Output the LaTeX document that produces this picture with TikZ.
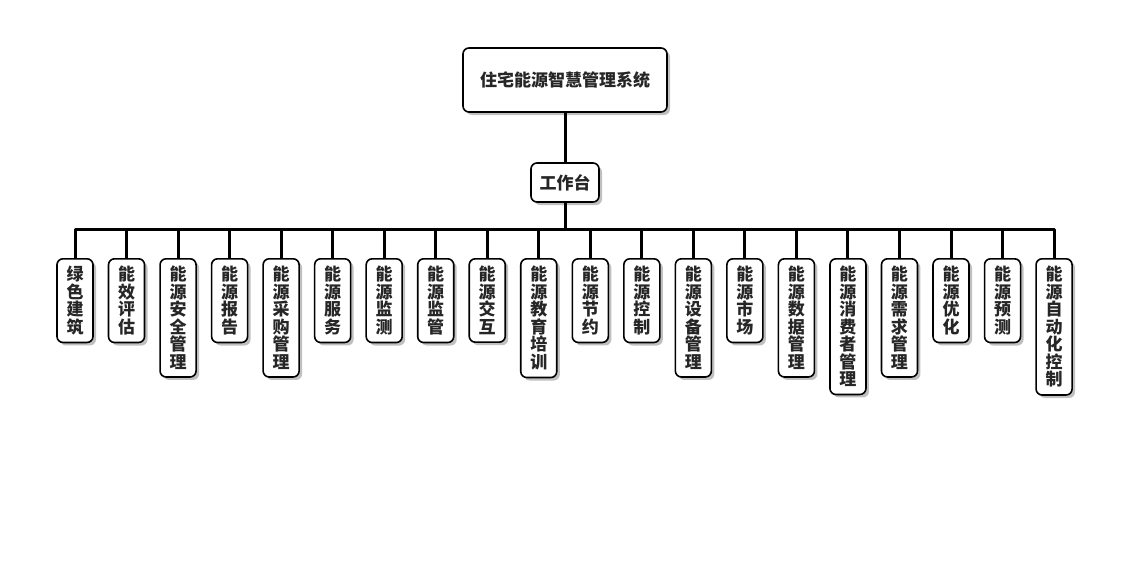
\documentclass[tikz,border=0pt]{standalone}
\usepackage{fontspec}
\newfontfamily\cjk{Noto Sans CJK SC}
\usetikzlibrary{shadows}
\begin{document}
\begin{tikzpicture}[x=1pt, y=-1pt, font=\cjk\bfseries\fontsize{17}{17.5}\selectfont, line join=round, line cap=round]
\tikzset{
  card/.style={draw, line width=1.6pt, rounded corners=6pt, fill=white, text=black!85,
    drop shadow={shadow xshift=3pt, shadow yshift=-3pt, fill=black!55, opacity=0.45}},
  leaf/.style={card, anchor=north, align=center, inner xsep=9.5pt, inner ysep=7.5pt},
  wire/.style={line width=3pt, line cap=butt}
}
\useasboundingbox (0,0) rectangle (1130,560);
\node[card, minimum width=204pt, minimum height=64pt] (root) at (565,80) {住宅能源智慧管理系统};
\node[card, minimum width=68pt, minimum height=39pt] (desk) at (565,182.5) {工作台};
\coordinate (bus) at (565,229);
\foreach \name [count=\i] in {
  {绿\\色\\建\\筑}, {能\\效\\评\\估}, {能\\源\\安\\全\\管\\理}, {能\\源\\报\\告},
  {能\\源\\采\\购\\管\\理}, {能\\源\\服\\务}, {能\\源\\监\\测}, {能\\源\\监\\管},
  {能\\源\\交\\互}, {能\\源\\教\\育\\培\\训}, {能\\源\\节\\约}, {能\\源\\控\\制},
  {能\\源\\设\\备\\管\\理}, {能\\源\\市\\场}, {能\\源\\数\\据\\管\\理},
  {能\\源\\消\\费\\者\\管\\理}, {能\\源\\需\\求\\管\\理}, {能\\源\\优\\化},
  {能\\源\\预\\测}, {能\\源\\自\\动\\化\\控\\制}}
  \node[leaf] (c\i) at ({75+(\i-1)*51.53},258) {\name};
% connectors
\draw[wire] (root) -- (desk);
\draw[wire] (desk) -- (bus);
\draw[wire] (c1.north) -- (c1.north |- bus) -- (c20.north |- bus) -- (c20.north);
\foreach \i in {2,...,19}
  \draw[wire] (c\i.north) -- (c\i.north |- bus);
\end{tikzpicture}
\end{document}
